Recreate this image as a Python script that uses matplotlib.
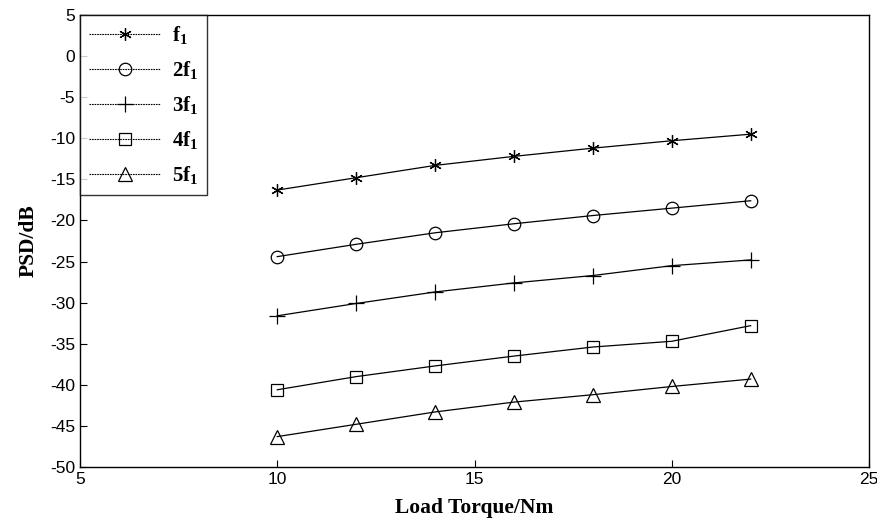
import numpy as np
import matplotlib
matplotlib.use('Agg')
import matplotlib.pyplot as plt

plt.rcParams['font.family'] = ['Liberation Sans', 'DejaVu Sans']
plt.rcParams['axes.unicode_minus'] = False
plt.rcParams['mathtext.fontset'] = 'custom'
plt.rcParams['mathtext.rm'] = 'Liberation Serif'
plt.rcParams['mathtext.bf'] = 'Liberation Serif:bold'

# ---------------- data ----------------
torque = [10, 12, 14, 16, 18, 20, 22]
f1 = [-16.3, -14.8, -13.3, -12.2, -11.2, -10.3, -9.5]
f2 = [-24.4, -22.9, -21.5, -20.4, -19.4, -18.5, -17.6]
f3 = [-31.6, -30.1, -28.7, -27.6, -26.7, -25.5, -24.8]
f4 = [-40.6, -39.0, -37.7, -36.5, -35.4, -34.7, -32.8]
f5 = [-46.3, -44.8, -43.3, -42.1, -41.2, -40.2, -39.3]
labels = [r'$\mathbf{f_1}$', r'$\mathbf{2f_1}$', r'$\mathbf{3f_1}$',
          r'$\mathbf{4f_1}$', r'$\mathbf{5f_1}$']

fig = plt.figure(figsize=(8.77, 5.21), dpi=100)
ax = fig.add_axes([0.0912, 0.1036, 0.8997, 0.8676])

series = [f1, f2, f3, f4, f5]
markers = [(6, 2, 0), 'o', '+', 's', '^']
sizes = [9, 9, 11, 9, 10]
for ys, m, ms, lab in zip(series, markers, sizes, labels):
    ax.plot(torque, ys, color='black', lw=0.9, marker=m, markersize=ms,
            markerfacecolor='none', markeredgecolor='black', markeredgewidth=0.9,
            label=lab)

ax.set_xlim(5, 25)
ax.set_ylim(-50, 5)
ax.set_xticks(np.arange(5, 26, 5))
ax.set_yticks(np.arange(-50, 6, 5))
ax.tick_params(direction='in', length=5, labelsize=12.5, width=0.8)
ax.tick_params(top=False, right=False)
for s in ax.spines.values():
    s.set_linewidth(1.0)

ax.set_xlabel('Load Torque/Nm', family='Liberation Serif', fontweight='bold',
              fontsize=15.5, labelpad=8)
ax.set_ylabel('PSD/dB', family='Liberation Serif', fontweight='bold',
              fontsize=15.5, labelpad=8)

leg = ax.legend(loc='upper left', borderaxespad=0, fancybox=False,
                edgecolor='black', fontsize=15, handlelength=3.4,
                labelspacing=0.62, borderpad=0.45, handletextpad=0.55)
leg.get_frame().set_linewidth(1.0)
for line in leg.get_lines():
    line.set_linestyle((0, (1.5, 0.8)))
    line.set_linewidth(0.8)

fig.savefig('out.png', dpi=100)
